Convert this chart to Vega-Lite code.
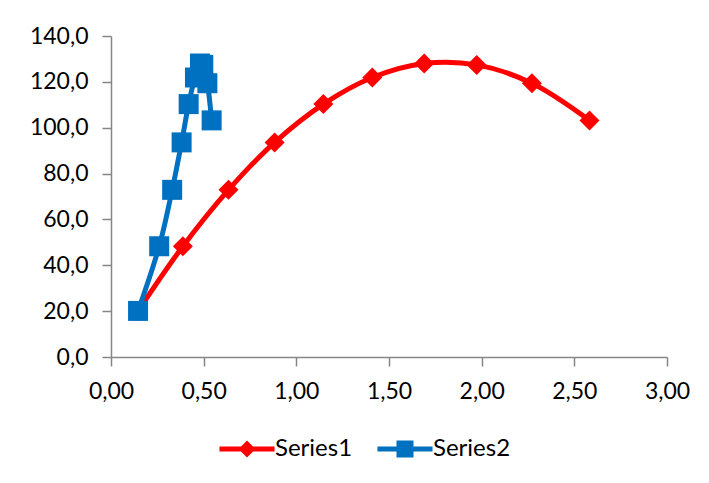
{
  "$schema": "https://vega.github.io/schema/vega-lite/v6.json",
  "width": 556,
  "height": 321,
  "autosize": {"type": "none"},
  "padding": {"left": 111, "top": 36, "right": 42, "bottom": 126},
  "background": "white",
  "config": {
    "view": {"stroke": null},
    "font": "Lato",
    "axis": {
      "labelFont": "Lato",
      "labelFontSize": 23,
      "labelColor": "#000000",
      "domainColor": "#868686",
      "tickColor": "#868686",
      "domainWidth": 1.5,
      "tickWidth": 1.5,
      "tickSize": 9,
      "labelPadding": 14,
      "grid": false,
      "title": null,
      "labelFlush": false,
      "labelOverlap": false
    },
    "legend": {
      "labelFont": "Lato",
      "labelFontSize": 24,
      "labelColor": "#000000"
    }
  },
  "data": {
    "values": [
      {"series": "Series1", "x": 0.146, "y": 20.1},
      {"series": "Series1", "x": 0.388, "y": 48.3},
      {"series": "Series1", "x": 0.634, "y": 72.9},
      {"series": "Series1", "x": 0.883, "y": 93.6},
      {"series": "Series1", "x": 1.146, "y": 110.3},
      {"series": "Series1", "x": 1.410, "y": 121.9},
      {"series": "Series1", "x": 1.690, "y": 128.0},
      {"series": "Series1", "x": 1.973, "y": 127.4},
      {"series": "Series1", "x": 2.271, "y": 119.4},
      {"series": "Series1", "x": 2.582, "y": 103.2},
      {"series": "Series2", "x": 0.146, "y": 20.1},
      {"series": "Series2", "x": 0.260, "y": 48.3},
      {"series": "Series2", "x": 0.330, "y": 72.9},
      {"series": "Series2", "x": 0.381, "y": 93.6},
      {"series": "Series2", "x": 0.419, "y": 110.3},
      {"series": "Series2", "x": 0.453, "y": 121.9},
      {"series": "Series2", "x": 0.480, "y": 128.0},
      {"series": "Series2", "x": 0.498, "y": 127.4},
      {"series": "Series2", "x": 0.520, "y": 119.4},
      {"series": "Series2", "x": 0.543, "y": 103.2}
    ]
  },
  "encoding": {
    "x": {
      "field": "x",
      "type": "quantitative",
      "scale": {"domain": [0, 3], "nice": false, "zero": false},
      "axis": {
        "values": [0, 0.5, 1, 1.5, 2, 2.5, 3],
        "labelExpr": "replace(format(datum.value, '.2f'), '.', ',')"
      }
    },
    "y": {
      "field": "y",
      "type": "quantitative",
      "scale": {"domain": [0, 140], "nice": false},
      "axis": {
        "values": [0, 20, 40, 60, 80, 100, 120, 140],
        "labelExpr": "replace(format(datum.value, '.1f'), '.', ',')"
      }
    },
    "color": {
      "field": "series",
      "type": "nominal",
      "scale": {"domain": ["Series1", "Series2"], "range": ["#FF0000", "#0070C0"]},
      "legend": {
        "title": null,
        "orient": "none",
        "direction": "horizontal",
        "legendX": 124,
        "legendY": 401,
        "symbolSize": 289,
        "symbolType": "square",
        "symbolStrokeWidth": 0,
        "symbolOpacity": 1,
        "labelOffset": 16,
        "columnPadding": 24,
        "padding": 0,
        "encode": {
          "symbols": {
            "update": {
              "shape": {"signal": "datum.value === 'Series1' ? 'M-3.24,-0.3H3.24V0.3H-3.24Z M0,-1L1,0L0,1L-1,0Z' : 'M-3.24,-0.3H3.24V0.3H-3.24Z M-1,-1H1V1H-1Z'"},
              "strokeWidth": {"value": 0},
              "opacity": {"value": 1}
            }
          }
        }
      }
    }
  },
  "layer": [
    {
      "mark": {"type": "line", "interpolate": "catmull-rom", "strokeWidth": 5, "strokeCap": "round", "strokeJoin": "round"},
      "encoding": {}
    },
    {
      "transform": [{"filter": "datum.series === 'Series1'"}],
      "mark": {"type": "point", "shape": "diamond", "filled": true, "opacity": 1, "size": 400},
      "encoding": {}
    },
    {
      "transform": [{"filter": "datum.series === 'Series2'"}],
      "mark": {"type": "point", "shape": "square", "filled": true, "opacity": 1, "size": 400},
      "encoding": {}
    }
  ]
}
